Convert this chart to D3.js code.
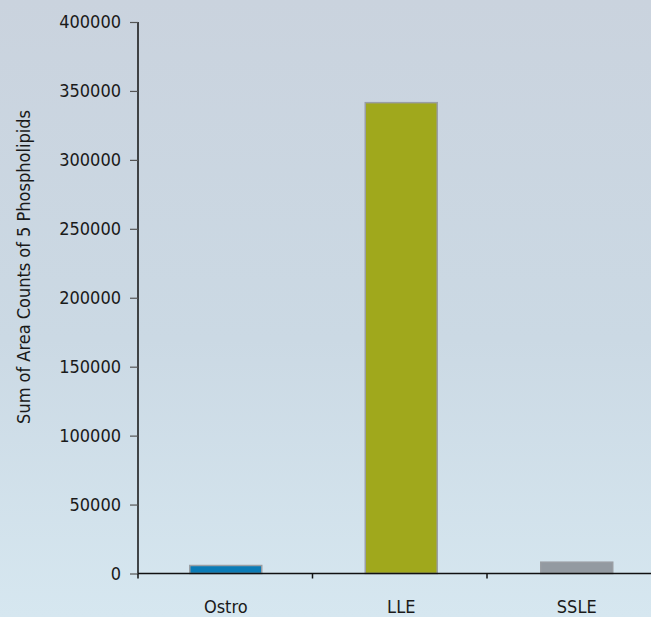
<!DOCTYPE html>
<html>
<head>
<meta charset="utf-8">
<script src="https://cdn.jsdelivr.net/npm/d3@7"></script>
<style>
  body { margin: 0; overflow: hidden; }
  svg text { font-family: "DejaVu Sans Condensed", "DejaVu Sans", sans-serif; font-stretch: condensed; fill: #1a1a1a; }
</style>
</head>
<body>
<svg></svg>
<script>
// values
var categories = ["Ostro", "LLE", "SSLE"];
var values = [5800, 341500, 8200];
var barColors = ["#0a7bb6", "#a0a81c", "#939aa1"];
var yTicks = [0, 50000, 100000, 150000, 200000, 250000, 300000, 350000, 400000];
var yLabel = "Sum of Area Counts of 5 Phospholipids";

var width = 651;
var height = 617;
var svg = d3.select("svg")
    .attr("width", width)
    .attr("height", height);

var defs = svg.append("defs");
var grad = defs.append("linearGradient")
    .attr("id", "bg")
    .attr("x1", 0).attr("y1", 0)
    .attr("x2", 0).attr("y2", 1);
grad.append("stop").attr("offset", "0%").attr("stop-color", "#cad3de");
grad.append("stop").attr("offset", "55%").attr("stop-color", "#cbd9e4");
grad.append("stop").attr("offset", "100%").attr("stop-color", "#d6e7f0");

svg.append("rect")
    .attr("width", width)
    .attr("height", height)
    .attr("fill", "url(#bg)");

var x0 = 138, yZero = 573.5, yTop = 22;

var x = d3.scaleBand()
    .domain(categories)
    .range([x0, x0 + 3 * 175.5])
    .paddingInner(0.59)
    .paddingOuter(0.295);

var y = d3.scaleLinear()
    .domain([0, 400000])
    .range([yZero, yTop]);

// bars
svg.append("g")
    .selectAll("rect")
    .data(values)
    .enter().append("rect")
        .attr("x", (d, i) => x(categories[i]))
        .attr("y", d => y(d))
        .attr("width", x.bandwidth())
        .attr("height", d => yZero - y(d))
        .attr("fill", (d, i) => barColors[i])
        .attr("stroke", "#9a9ea3")
        .attr("stroke-width", 1.5);

// y axis
var yAxis = svg.append("g")
    .attr("transform", "translate(" + x0 + ",0)")
    .call(d3.axisLeft(y).tickValues(yTicks).tickSize(8).tickPadding(9).tickFormat(d3.format("d")));
yAxis.select(".domain").attr("stroke", "#111").attr("stroke-width", 1.5).attr("d", "M0," + yZero + "V" + yTop);
yAxis.selectAll(".tick line").attr("stroke", "#555").attr("stroke-width", 1.2);
yAxis.selectAll(".tick text").style("font-size", "18px").attr("fill", "#1a1a1a");

// x axis
var bandStep = 174.5;
var xAxisG = svg.append("g");
xAxisG.append("line")
    .attr("x1", x0).attr("x2", width)
    .attr("y1", yZero).attr("y2", yZero)
    .attr("stroke", "#111").attr("stroke-width", 1.5);
xAxisG.selectAll("line.tk")
    .data(categories)
    .enter().append("line")
        .attr("class", "tk")
        .attr("x1", (d, i) => x0 + i * bandStep)
        .attr("x2", (d, i) => x0 + i * bandStep)
        .attr("y1", yZero)
        .attr("y2", yZero + 5)
        .attr("stroke", "#111").attr("stroke-width", 1.5);
xAxisG.selectAll("text")
    .data(categories)
    .enter().append("text")
        .attr("x", d => x(d) + x.bandwidth() / 2)
        .attr("y", 613)
        .attr("text-anchor", "middle")
        .style("font-size", "18px")
        .text(d => d);

// y label
svg.append("text")
    .attr("transform", "translate(30,267) rotate(-90)")
    .attr("text-anchor", "middle")
    .style("font-size", "18px")
    .text(yLabel);
</script>
</body>
</html>
